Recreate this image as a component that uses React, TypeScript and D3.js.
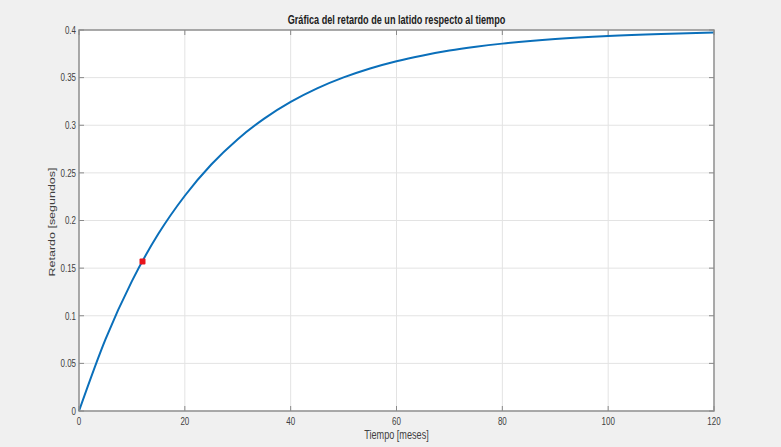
import React from "react";
import * as d3 from "d3";

const months = [0, 5, 10, 15, 20, 25, 30, 35, 40, 45, 50, 55, 60, 65, 70, 75, 80, 90, 100, 110, 120];
const delay = [0, 0.0752, 0.1364, 0.186, 0.226, 0.2588, 0.2854, 0.307, 0.3245, 0.3387, 0.3502, 0.3596, 0.3672, 0.3733, 0.3784, 0.3824, 0.3857, 0.3906, 0.3938, 0.3959, 0.3973];
const markerPoint = [12, 0.157];
const xTicks = [0, 20, 40, 60, 80, 100, 120];
const yTicks = [0, 0.05, 0.1, 0.15, 0.2, 0.25, 0.3, 0.35, 0.4];
const title = "Gráfica del retardo de un latido respecto al tiempo";
const xLabel = "Tiempo [meses]";
const yLabel = "Retardo [segundos]";

const W = 781, H = 447;
const L = 79, R = 714, T = 30, B = 411;
const font = "'Liberation Sans', Arial, Helvetica, sans-serif";
const SX = 0.76;

function SText(props: { x: number; y: number; anchor: string; size: number; bold?: boolean; fill: string; children: React.ReactNode }) {
  return (
    <g transform={`translate(${props.x},${props.y}) scale(${SX},1)`}>
      <text x={0} y={0} textAnchor={props.anchor} fontFamily={font} fontSize={props.size} fontWeight={props.bold ? "bold" : "normal"} fill={props.fill}>{props.children}</text>
    </g>
  );
}

export default function App() {
  const x = d3.scaleLinear().domain([0, 120]).range([L, R]);
  const y = d3.scaleLinear().domain([0, 0.4]).range([B, T]);
  const pts = months.map((m, i) => [m, delay[i]] as [number, number]);
  const line = d3.line<[number, number]>().x(d => x(d[0])).y(d => y(d[1])).curve(d3.curveMonotoneX);
  const axisColor = "#8a8a8a";
  const textColor = "#404040";
  const tick = 5;
  return (
    <svg width={W} height={H} style={{ position: "absolute", left: 0, top: 0 }} xmlns="http://www.w3.org/2000/svg">
      <rect x={0} y={0} width={W} height={H} fill="#f0f0f0" />
      <rect x={L} y={T} width={R - L} height={B - T} fill="#ffffff" />
      {xTicks.map(t => (
        <line key={"gx" + t} x1={x(t)} x2={x(t)} y1={T} y2={B} stroke="#e3e3e3" strokeWidth={1} />
      ))}
      {yTicks.map(t => (
        <line key={"gy" + t} x1={L} x2={R} y1={y(t)} y2={y(t)} stroke="#e3e3e3" strokeWidth={1} />
      ))}
      <path d={line(pts) || ""} fill="none" stroke="#0a6fba" strokeWidth={2} />
      <rect x={x(markerPoint[0]) - 3} y={y(markerPoint[1]) - 3} width={6} height={6} rx={1} fill="#e8141c" />
      <rect x={L} y={T} width={R - L} height={B - T} fill="none" stroke={axisColor} strokeWidth={1.4} />
      {xTicks.map(t => (
        <g key={"tx" + t}>
          <line x1={x(t)} x2={x(t)} y1={B} y2={B - tick} stroke={axisColor} />
          <line x1={x(t)} x2={x(t)} y1={T} y2={T + tick} stroke={axisColor} />
          <SText x={x(t)} y={425} anchor="middle" size={10.5} fill={textColor}>{t}</SText>
        </g>
      ))}
      {yTicks.map(t => (
        <g key={"ty" + t}>
          <line x1={L} x2={L + tick} y1={y(t)} y2={y(t)} stroke={axisColor} />
          <line x1={R} x2={R - tick} y1={y(t)} y2={y(t)} stroke={axisColor} />
          <SText x={76} y={y(t) + 3.8} anchor="end" size={10.5} fill={textColor}>{d3.format("~g")(t)}</SText>
        </g>
      ))}
      <SText x={(L + R) / 2} y={24} anchor="middle" size={12} bold fill="#202020">{title}</SText>
      <SText x={(L + R) / 2} y={439} anchor="middle" size={12} fill={textColor}>{xLabel}</SText>
      <g transform={`translate(55,222) rotate(-90) scale(1,${SX})`}>
        <text x={0} y={0} textAnchor="middle" fontFamily={font} fontSize={12.5} fill={textColor}>{yLabel}</text>
      </g>
    </svg>
  );
}
